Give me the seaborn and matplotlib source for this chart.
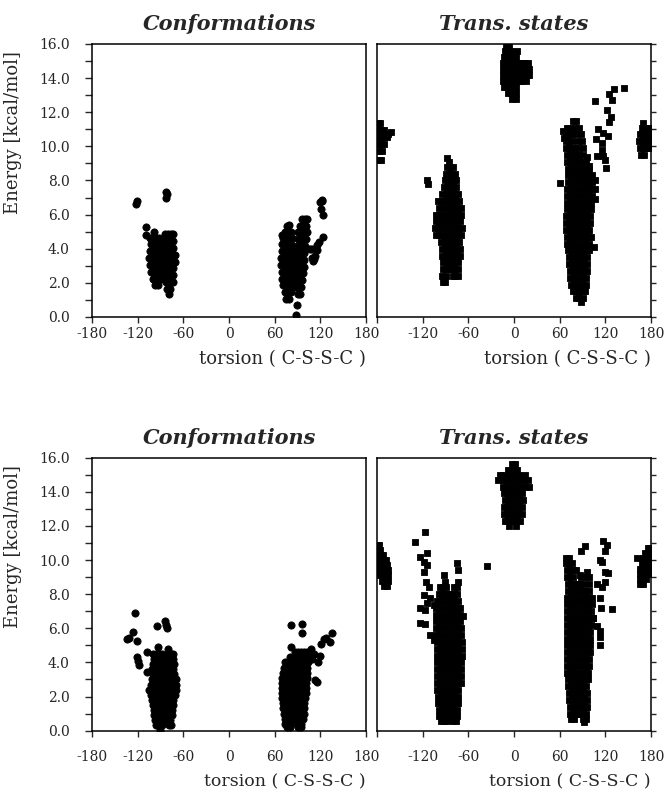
import matplotlib
matplotlib.use("Agg")
import matplotlib.pyplot as plt
import seaborn as sns
import pandas as pd
from matplotlib.ticker import MultipleLocator, FixedLocator

# ---------------------------------------------------------------- data
# Dense clusters are given as rows: (energy, [torsions ...]); extra points as (torsion, energy)

# Top-left: Conformations
conf_top_m90_rows = [
    (4.85, [-84, -80, -76, -73]),
    (4.6, [-104, -100, -96, -92]),
    (4.45, [-85, -81, -77, -73]),
    (4.25, [-103, -99, -95, -91, -88]),
    (4.05, [-85, -81, -77, -73]),
    (3.85, [-104, -100, -96, -92, -88]),
    (3.65, [-86, -82, -78, -74, -71]),
    (3.45, [-105, -101, -97, -93, -89]),
    (3.25, [-85, -81, -77, -73, -71]),
    (3.05, [-104, -100, -96, -92, -88]),
    (2.85, [-85, -81, -77, -73]),
    (2.65, [-102, -98, -94, -90]),
    (2.45, [-84, -80, -76, -73]),
    (2.25, [-100, -96, -92, -89]),
    (2.05, [-83, -79, -75, -73]),
    (1.85, [-97, -93]),
    (1.65, [-81, -78]),
    (1.35, [-79]),
]
conf_top_p90_rows = [
    (5.75, [96, 100, 103]),
    (5.4, [79]),
    (5.35, [76, 93, 97, 101]),
    (5.0, [73, 77, 81]),
    (4.95, [91, 95, 99, 102]),
    (4.65, [71, 75, 79, 83]),
    (4.55, [90, 94, 98, 101]),
    (4.25, [70, 74, 78, 82]),
    (4.15, [89, 93, 97, 100]),
    (3.85, [69, 73, 77, 81, 84]),
    (3.75, [88, 92, 96, 99]),
    (3.45, [68, 72, 76, 80, 84]),
    (3.35, [87, 91, 95, 98]),
    (3.05, [68, 72, 76, 80, 84]),
    (2.95, [87, 91, 95, 98]),
    (2.65, [69, 73, 77, 81, 84]),
    (2.55, [87, 91, 95, 97]),
    (2.25, [70, 74, 78, 82]),
    (2.15, [88, 92, 96]),
    (1.85, [71, 75, 79, 83]),
    (1.75, [88, 92, 95]),
    (1.45, [73, 77, 81]),
    (1.35, [90, 93]),
    (1.05, [75, 79]),
]
conf_top_extra = [
    (-122, 6.6), (-121, 6.8), (-83, 7.35), (-83, 7.0), (-82, 7.2),
    (-109, 5.3), (-109, 4.8), (-99, 5.0),
    (70, 4.8), (89, 0.7), (88, 0.1), (108.7, 3.45), (107, 4.0), (113, 3.6),
    (115, 3.9), (110, 3.3), (108.7, 3.97), (111, 3.4), (115, 4.24),
    (124, 4.7), (117.6, 4.4), (119.6, 6.76), (121.6, 6.85), (122.7, 6.8),
    (120.6, 6.3), (123, 5.95),
]

# Top-right: Transition states
ts_top_edge_left_rows = [
    (11.35, [-179, -176]),
    (10.95, [-179, -175, -171]),
    (10.55, [-179, -175, -171, -167]),
    (10.15, [-179, -175, -171]),
    (9.75, [-178, -174]),
    (9.2, [-178, -175]),
]
ts_top_edge_right_rows = [
    (11.35, [170]),
    (11.05, [168, 172, 176, 179]),
    (10.7, [165, 169, 173, 177, 180]),
    (10.3, [164, 168, 172, 176, 179]),
    (9.9, [165, 169, 173, 177]),
    (9.5, [167, 171]),
]
ts_top_m90_rows = [
    (9.3, [-88]), (9.1, [-85]),
    (8.8, [-88, -84, -80]),
    (8.4, [-90, -86, -82, -78]),
    (8.0, [-91, -87, -83, -79, -76]),
    (7.6, [-92, -88, -84, -80, -76]),
    (7.2, [-94, -90, -86, -82, -78, -74]),
    (6.8, [-100, -96, -92, -88, -84, -80, -76, -72]),
    (6.4, [-98, -94, -90, -86, -82, -78, -74, -70]),
    (6.0, [-102, -98, -94, -90, -86, -82, -78, -74, -70]),
    (5.6, [-103, -99, -95, -91, -87, -83, -79, -75, -71]),
    (5.2, [-104, -100, -96, -92, -88, -84, -80, -76, -72, -69]),
    (4.8, [-102, -98, -94, -90, -86, -82, -78, -74, -70]),
    (4.4, [-96, -92, -88, -84, -80, -76, -72]),
    (4.0, [-95, -91, -87, -83, -79, -75, -71]),
    (3.6, [-94, -90, -86, -82, -78, -74, -71]),
    (3.2, [-93, -89, -85, -81, -77, -73]),
    (2.8, [-93, -89, -85, -81, -77, -74]),
    (2.4, [-94, -90, -80, -77, -74]),
    (2.05, [-93, -91]),
]
ts_top_zero_rows = [
    (15.85, [-10, -6]),
    (15.6, [-12, -8, -4, 4]),
    (15.25, [-13, -9, -5, -1, 2]),
    (14.9, [-14, -10, -6, -2, 2, 6, 10, 14, 18]),
    (14.55, [-15, -11, -7, -3, 1, 5, 9, 13, 17, 20]),
    (14.2, [-15, -11, -7, -3, 1, 5, 9, 13, 17, 20]),
    (13.85, [-15, -11, -7, -3, 1, 6, 11, 16]),
    (13.5, [-13, -9, -5, -1, 3]),
    (13.15, [-8, -4, 0, 3]),
    (12.8, [-3, 2]),
]
ts_top_p90_rows = [
    (11.5, [78, 82]),
    (11.1, [70, 74, 80, 86]),
    (10.7, [68, 72, 76, 82, 88]),
    (10.3, [68, 72, 76, 84, 89]),
    (9.9, [68, 72, 76, 80, 85, 90]),
    (9.5, [69, 73, 77, 81, 86, 91]),
    (9.1, [70, 74, 78, 82, 86, 90, 95]),
    (8.7, [71, 75, 79, 83, 87, 91, 95, 99]),
    (8.3, [71, 75, 79, 83, 87, 91, 95, 99, 103]),
    (7.9, [71, 75, 79, 83, 87, 91, 95, 99, 103]),
    (7.5, [70, 74, 78, 82, 86, 90, 94, 98, 102, 106]),
    (7.1, [70, 74, 78, 82, 86, 90, 94, 98, 102]),
    (6.7, [69, 73, 77, 81, 85, 89, 93, 97, 101]),
    (6.3, [69, 73, 77, 81, 85, 89, 93, 97, 101]),
    (5.9, [68, 72, 76, 80, 84, 88, 92, 96, 100]),
    (5.5, [68, 72, 76, 80, 84, 88, 92, 96, 100]),
    (5.1, [68, 72, 76, 80, 84, 88, 92, 96, 99]),
    (4.7, [69, 73, 77, 81, 85, 89, 93, 97, 101]),
    (4.3, [70, 74, 78, 82, 86, 90, 94, 98]),
    (3.9, [71, 75, 79, 83, 87, 91, 95, 98]),
    (3.5, [72, 76, 80, 84, 88, 92, 96]),
    (3.1, [72, 76, 80, 84, 88, 92, 96]),
    (2.7, [73, 77, 81, 85, 89, 93, 96]),
    (2.3, [74, 78, 82, 86, 90, 94]),
    (1.9, [75, 79, 83, 87, 91, 95]),
    (1.5, [78, 82, 86, 90, 93]),
    (1.1, [82, 86, 90]),
    (0.85, [88]),
]
ts_top_extra = [
    (-162, 10.85), (-165, 10.7), (-114, 8.0), (-113, 7.8),
    (106.5, 12.66), (125, 13.07), (131.5, 13.35), (144.6, 13.4), (128.4, 12.7),
    (122.2, 12.1), (127.6, 11.7), (125, 11.4), (110.8, 11.0), (108, 10.4),
    (117.5, 10.8), (122.8, 10.6), (115, 10.2), (115.7, 9.8), (117, 9.45),
    (119.8, 9.2), (120.7, 8.75), (109, 9.45), (107, 8.0), (106, 6.9),
    (104.6, 4.1), (61, 7.85), (95.6, 9.35), (98, 8.85), (64, 10.9), (65, 10.5),
]

# Bottom-left: Conformations
conf_bot_m90_rows = [
    (4.5, [-100, -96, -92, -88, -80, -76]),
    (4.2, [-98, -94, -90, -86, -82, -78, -74]),
    (3.9, [-100, -96, -92, -88, -84, -80, -76, -72]),
    (3.6, [-101, -97, -93, -89, -85, -81, -77, -73]),
    (3.3, [-100, -96, -92, -88, -84, -80, -76, -72]),
    (3.0, [-101, -97, -93, -89, -85, -81, -77, -73, -70]),
    (2.7, [-102, -98, -94, -90, -86, -82, -78, -74, -70]),
    (2.4, [-105, -102, -98, -94, -90, -86, -82, -78, -74, -70]),
    (2.1, [-103, -99, -95, -91, -87, -83, -79, -75, -71]),
    (1.8, [-101, -97, -93, -89, -85, -81, -77, -73]),
    (1.5, [-100, -96, -92, -88, -84, -80, -76, -73]),
    (1.2, [-99, -95, -91, -87, -83, -79, -75]),
    (0.9, [-98, -94, -90, -86, -82, -78, -75]),
    (0.6, [-97, -93, -89, -85, -81, -77]),
    (0.35, [-96, -92, -88, -79, -76]),
    (0.05, [-91]),
]
conf_bot_p90_rows = [
    (4.6, [86, 90, 94, 98, 102]),
    (4.3, [80, 84, 88, 92, 96, 100, 104]),
    (4.0, [73, 77, 81, 85, 89, 93, 97, 101, 104]),
    (3.7, [72, 76, 80, 84, 88, 92, 96, 100, 103]),
    (3.4, [71, 75, 79, 83, 87, 91, 95, 99, 103]),
    (3.1, [70, 74, 78, 82, 86, 90, 94, 98, 102]),
    (2.8, [70, 74, 78, 82, 86, 90, 94, 98, 101]),
    (2.5, [69, 73, 77, 81, 85, 89, 93, 97, 101]),
    (2.2, [70, 74, 78, 82, 86, 90, 94, 98, 101]),
    (1.9, [70, 74, 78, 82, 86, 90, 94, 98, 100]),
    (1.6, [71, 75, 79, 83, 87, 91, 95, 99]),
    (1.3, [71, 75, 79, 83, 87, 91, 95, 99]),
    (1.0, [72, 76, 80, 84, 88, 92, 96, 99]),
    (0.7, [73, 77, 81, 85, 89, 93, 97]),
    (0.4, [74, 78, 82, 90, 94]),
    (0.2, [76, 80, 91, 95]),
]
conf_bot_extra = [
    (-123.5, 6.88), (-125.7, 5.8), (-134.4, 5.4), (-132, 5.45), (-121.3, 5.27),
    (-121.3, 4.34), (-119, 4.1), (-118, 3.85), (-108, 3.46), (-95, 6.16),
    (-84, 6.4), (-83, 6.2), (-81, 6.0), (-108, 4.6), (-73, 4.5), (-93.4, 4.9),
    (-80.6, 4.8),
    (81.5, 6.2), (95.5, 6.25), (95.5, 5.75), (81.5, 4.9), (135, 5.75),
    (133, 5.17), (124.9, 5.36), (127, 5.45), (121.4, 5.1), (119.3, 4.4),
    (117, 4.0), (113, 2.97), (115, 2.85), (107.8, 4.8), (108.6, 4.2), (111.4, 4.5),
]

# Bottom-right: Transition states
ts_bot_edge_left_rows = [
    (10.9, [-180, -177]),
    (10.6, [-179, -176]),
    (10.3, [-179, -175, -172]),
    (10.0, [-179, -175, -171, -168]),
    (9.7, [-179, -175, -171, -167]),
    (9.4, [-178, -174, -170, -166]),
    (9.1, [-177, -173, -169, -165]),
    (8.8, [-174, -170, -166]),
    (8.5, [-171, -167]),
]
ts_bot_edge_right_rows = [
    (10.7, [176, 179]),
    (10.4, [172, 176, 180]),
    (10.1, [162, 170, 174, 178]),
    (9.8, [168, 172, 176, 180]),
    (9.5, [166, 170, 174, 178]),
    (9.2, [165, 169, 173, 177]),
    (8.9, [165, 169, 173]),
    (8.6, [166, 170]),
]
ts_bot_m90_rows = [
    (9.8, [-75]), (9.4, [-73]), (9.1, [-92]),
    (8.7, [-91, -74]),
    (8.4, [-97, -93, -89, -79, -75]),
    (8.0, [-99, -95, -91, -87, -83, -79, -75]),
    (7.6, [-101, -97, -93, -89, -85, -81, -77, -73]),
    (7.2, [-102, -98, -94, -90, -86, -82, -78, -74, -71]),
    (6.8, [-103, -99, -95, -91, -87, -83, -79, -75, -71]),
    (6.4, [-103, -99, -95, -91, -87, -83, -79, -75, -71]),
    (6.0, [-102, -98, -94, -90, -86, -82, -78, -74, -70]),
    (5.6, [-102, -98, -94, -90, -86, -82, -78, -74, -70]),
    (5.2, [-101, -97, -93, -89, -85, -81, -77, -73, -69]),
    (4.8, [-101, -97, -93, -89, -85, -81, -77, -73, -69]),
    (4.4, [-101, -97, -93, -89, -85, -81, -77, -73, -69]),
    (4.0, [-101, -97, -93, -89, -85, -81, -77, -73, -70]),
    (3.6, [-101, -97, -93, -89, -85, -81, -77, -73, -70]),
    (3.2, [-101, -97, -93, -89, -85, -81, -77, -73, -70]),
    (2.8, [-101, -97, -93, -89, -85, -81, -77, -73, -70]),
    (2.4, [-101, -97, -93, -89, -85, -81, -77, -73]),
    (2.0, [-100, -96, -92, -88, -84, -80, -76, -73]),
    (1.6, [-100, -96, -92, -88, -84, -80, -76, -73]),
    (1.2, [-99, -95, -91, -87, -83, -79, -75]),
    (0.85, [-98, -94, -90, -86, -82, -78, -75]),
    (0.55, [-96, -92, -88, -80, -76]),
]
ts_bot_zero_rows = [
    (15.6, [-3, 1]),
    (15.3, [-8, -4, 0, 4]),
    (15.0, [-18, -14, -6, -2, 2, 6, 15]),
    (14.7, [-21, -15, -11, -7, -3, 1, 5, 9, 13, 19]),
    (14.3, [-14, -10, -6, -2, 2, 6, 10, 16, 20]),
    (13.9, [-13, -9, -5, -1, 3, 7, 11]),
    (13.5, [-12, -8, -4, 0, 4, 8, 12]),
    (13.1, [-13, -9, -5, -1, 3, 7, 11]),
    (12.7, [-13, -9, -5, -1, 3, 7, 11]),
    (12.3, [-12, -8, -4, 0, 4, 8]),
    (12.0, [-7, 3]),
]
ts_bot_p90_rows = [
    (10.1, [68, 72]),
    (9.8, [68, 72, 76]),
    (9.4, [69, 73, 77, 81]),
    (9.0, [70, 74, 78, 88, 95]),
    (8.6, [71, 75, 79, 83, 87, 91, 98]),
    (8.2, [71, 75, 79, 83, 87, 91, 95, 99]),
    (7.8, [70, 74, 78, 82, 86, 90, 94, 98, 102]),
    (7.4, [70, 74, 78, 82, 86, 90, 94, 98, 102]),
    (7.0, [69, 73, 77, 81, 85, 89, 93, 97, 101]),
    (6.6, [69, 73, 77, 81, 85, 89, 93, 97, 101, 104]),
    (6.2, [69, 73, 77, 81, 85, 89, 93, 97, 101]),
    (5.8, [69, 73, 77, 81, 85, 89, 93, 97, 100]),
    (5.4, [69, 73, 77, 81, 85, 89, 93, 97, 100]),
    (5.0, [69, 73, 77, 81, 85, 89, 93, 97, 100]),
    (4.6, [69, 73, 77, 81, 85, 89, 93, 97, 100]),
    (4.2, [70, 74, 78, 82, 86, 90, 94, 98]),
    (3.8, [70, 74, 78, 82, 86, 90, 94, 98]),
    (3.4, [70, 74, 78, 82, 86, 90, 94, 97]),
    (3.0, [71, 75, 79, 83, 87, 91, 95, 97]),
    (2.6, [71, 75, 79, 83, 87, 91, 95]),
    (2.2, [72, 76, 80, 84, 88, 92, 96]),
    (1.8, [72, 76, 80, 84, 88, 92, 96]),
    (1.4, [73, 77, 81, 85, 89, 93, 96]),
    (1.0, [74, 78, 82, 86, 90, 94]),
    (0.7, [75, 79, 90, 94]),
    (0.5, [92]),
]
ts_bot_extra = [
    (-116.5, 11.63), (-129.6, 11.08), (-123, 10.2), (-114.3, 10.4), (-118.7, 9.9),
    (-114, 9.7), (-118.7, 9.3), (-115, 8.74), (-112, 8.44), (-118.7, 7.96),
    (-110, 7.76), (-114, 7.47), (-105.5, 7.37), (-123, 7.18), (-116.5, 7.08),
    (-123, 6.29), (-116.5, 6.23), (-110, 5.6), (-105.5, 5.3), (-67, 6.7),
    (-35, 9.67),
    (93.3, 10.8), (88, 10.5), (116.5, 11.1), (121.8, 10.9), (119.5, 10.55),
    (113, 10.0), (116, 9.9), (119.5, 9.3), (123, 9.25), (95.2, 9.3), (86.4, 9.1),
    (98, 9.0), (120, 8.7), (108.4, 8.6), (115, 8.4), (112.7, 7.8), (114, 7.2),
    (128.4, 7.15), (108.4, 6.15), (112.7, 5.85), (112.7, 5.5), (112.7, 5.0), (104, 6.6),
]

x_ticks = [-180, -120, -60, 0, 60, 120, 180]
x_labels_left = ["-180", "-120", "-60", "0", "60", "120", "180"]
x_labels_right = ["", "-120", "-60", "0", "60", "120", "180"]
y_major = [0, 2, 4, 6, 8, 10, 12, 14, 16]

# ---------------------------------------------------------------- helpers
def expand(rows):
    return [(t, e) for e, ts in rows for t in ts]


def frame(row_groups, extra):
    pts = []
    for rows in row_groups:
        pts += expand(rows)
    pts += list(extra)
    return pd.DataFrame(pts, columns=["torsion", "energy"])


panels = [
    ("Conformations", "o", True, True,
     frame([conf_top_m90_rows, conf_top_p90_rows], conf_top_extra),
     [0.1386, 0.6003, 0.4127, 0.3443]),
    ("Trans. states", "s", False, True,
     frame([ts_top_edge_left_rows, ts_top_edge_right_rows, ts_top_m90_rows,
            ts_top_zero_rows, ts_top_p90_rows], ts_top_extra),
     [0.5678, 0.6003, 0.4127, 0.3443]),
    ("Conformations", "o", True, False,
     frame([conf_bot_m90_rows, conf_bot_p90_rows], conf_bot_extra),
     [0.1386, 0.0786, 0.4127, 0.3443]),
    ("Trans. states", "s", False, False,
     frame([ts_bot_edge_left_rows, ts_bot_edge_right_rows, ts_bot_m90_rows,
            ts_bot_zero_rows, ts_bot_p90_rows], ts_bot_extra),
     [0.5678, 0.0786, 0.4127, 0.3443]),
]

# ---------------------------------------------------------------- plot
sns.set_style("ticks")
plt.rcParams["font.family"] = ["DejaVu Serif"]
plt.rcParams["axes.linewidth"] = 1.1

fig = plt.figure(figsize=(6.64, 7.93), dpi=100)

for title, marker, is_left, is_top, df, pos in panels:
    ax = fig.add_axes(pos)
    size = 27 if marker == "o" else 22
    sns.scatterplot(data=df, x="torsion", y="energy", marker=marker, s=size,
                    color="black", edgecolor="black", linewidth=0.6,
                    ax=ax, legend=False, zorder=3)
    ax.set_xlim(-180, 180)
    ax.set_ylim(0, 16)
    for sp in ax.spines.values():
        sp.set_visible(True)
        sp.set_color("black")
        sp.set_linewidth(1.1)

    ax.xaxis.set_major_locator(FixedLocator(x_ticks))
    ax.set_xticklabels(x_labels_left if is_left else x_labels_right)
    ax.yaxis.set_major_locator(FixedLocator(y_major))
    ax.yaxis.set_minor_locator(MultipleLocator(1.0))

    xpad = 3 if is_top else 9.5
    ax.tick_params(axis="x", which="both", direction="out", length=4.5,
                   width=1.0, pad=xpad, labelsize=10, bottom=True, top=False)
    if is_left:
        ax.set_yticklabels([f"{v:.1f}" for v in y_major])
        ax.tick_params(axis="y", which="both", direction="out", length=5,
                       width=1.0, pad=11, labelsize=10, left=True, right=False)
        ax.set_ylabel("Energy [kcal/mol]", fontsize=13)
        ax.yaxis.set_label_coords(-0.255, 0.675)
    else:
        ax.yaxis.tick_right()
        ax.tick_params(axis="y", which="both", direction="out", length=3.5,
                       width=1.0, labelright=False, labelleft=False,
                       left=False, right=True)
        ax.set_ylabel("")

    ax.set_xlabel("torsion ( C-S-S-C )", fontsize=13 if is_top else 12.5,
                  loc="right")
    ax.xaxis.set_label_coords(1.0, -0.121 if is_top else -0.158)
    ax.xaxis.label.set_va("top")

    ax.set_title(title, fontsize=15, fontweight="bold", fontstyle="italic",
                 pad=10)

fig.savefig("out.png", dpi=100)
